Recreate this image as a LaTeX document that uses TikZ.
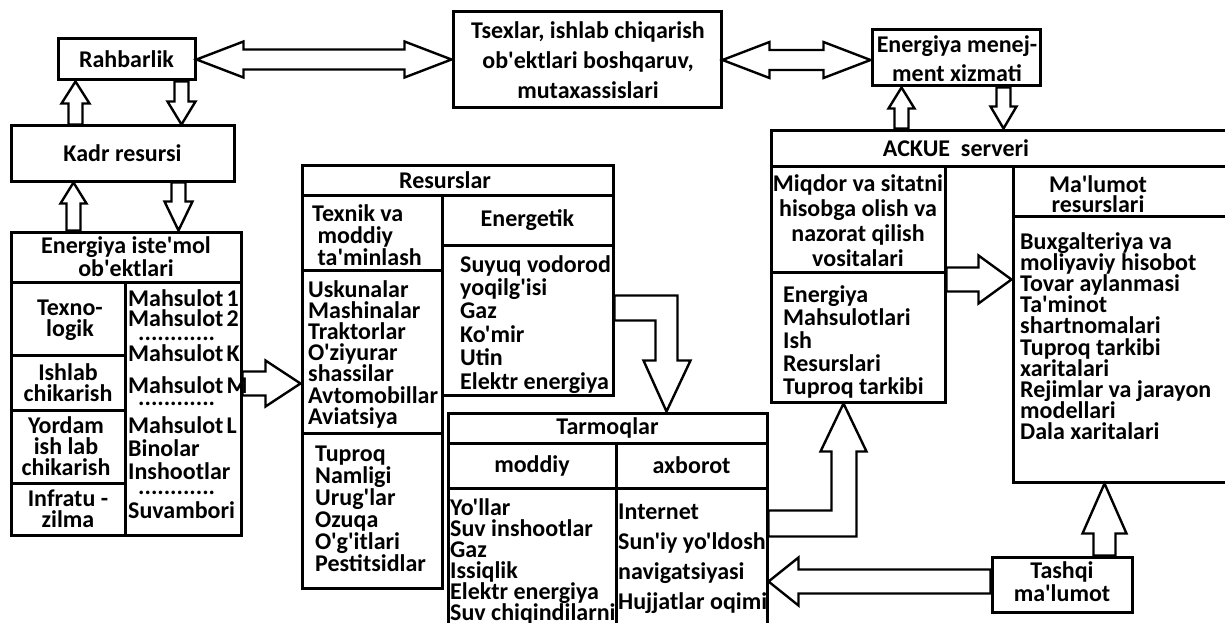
\documentclass[tikz,border=0pt]{standalone}
\usepackage{fontspec}
\setmainfont{Carlito}[Ligatures=TeXOff]
\usetikzlibrary{calc}

\newcommand\labfont{\bfseries\fontsize{24}{21}\selectfont\lineskiplimit=-50pt\relax}
\newcommand\lsp[1]{\fontsize{24}{#1}\selectfont}
\newcommand\ms{\hspace{3pt}}

% framed cell given by its corners (x1,y1) (x2,y2)
\newcommand\boxat[6]{\node[box,minimum width={#4-#2},minimum height={#5-#3}] (#1) at ({(#2+#4)/2},{(#3+#5)/2}) {#6};}
% vertical block arrow: base, tip, half shaft, half head, head length (signed, tip towards base)
\newcommand\vblock[5]{\draw[blk] (#2) -- ($(#2)+(#4,#5)$) -- ($(#2)+(#3,#5)$) -- ($(#1)+(#3,0)$) -- ($(#1)+(-#3,0)$) -- ($(#2)+(-#3,#5)$) -- ($(#2)+(-#4,#5)$) -- cycle;}
% horizontal block arrow
\newcommand\hblock[5]{\draw[blk] (#2) -- ($(#2)+(#5,-#4)$) -- ($(#2)+(#5,-#3)$) -- ($(#1)+(0,-#3)$) -- ($(#1)+(0,#3)$) -- ($(#2)+(#5,#3)$) -- ($(#2)+(#5,#4)$) -- cycle;}
% horizontal two-headed block arrow
\newcommand\dblock[5]{\draw[blk] (#1) -- ($(#1)+(#5,-#4)$) -- ($(#1)+(#5,-#3)$) -- ($(#2)+(-#5,-#3)$) -- ($(#2)+(-#5,-#4)$) -- (#2) -- ($(#2)+(-#5,#4)$) -- ($(#2)+(-#5,#3)$) -- ($(#1)+(#5,#3)$) -- ($(#1)+(#5,#4)$) -- cycle;}

\pgfdeclarelayer{bg}
\pgfdeclarelayer{paper}
\pgfsetlayers{paper,bg,main}

\tikzset{
  box/.style={draw,line width=3pt,inner sep=0pt,align=center,font=\labfont},
  lst/.style={inner sep=0pt,align=left,anchor=north west,font=\labfont},
  txt/.style={inner sep=0pt,align=center,font=\labfont},
  blk/.style={draw,line width=2.4pt,fill=white,line join=miter},
}

\begin{document}
\begin{tikzpicture}[x=1pt,y=-1pt]
\begin{pgfonlayer}{paper}
\fill[white] (0,0) rectangle (1225,623);
\end{pgfonlayer}
\useasboundingbox (0,0) rectangle (1225,623);

% top row
\boxat{rah}{58}{39}{195}{80}{Rahbarlik}
\boxat{tsex}{453}{12}{721}{108}{}
\node[txt,font=\labfont\lsp{30}] (tsext) at (588,60) {Tsexlar, ishlab chiqarish\\ ob'ektlari boshqaruv,\\mutaxassislari};
\boxat{men}{872}{30}{1040}{86}{}
\node[txt,font=\labfont\lsp{29}] (ment) at (957,59) {Energiya menej-\\ment xizmati};

% left block
\boxat{kadr}{11}{126}{234}{181}{Kadr resursi}
\boxat{ene}{11}{232}{241}{535}{}
\boxat{eneh}{11}{232}{241}{282}{}
\node[txt,font=\labfont\lsp{23}] (eneht) at (126,257) {Energiya iste'mol\\ob'ektlari};
\boxat{tex}{11}{282}{125}{355}{}
\node[txt] (text) at (70,320) {Texno-\\logik};
\boxat{ish}{11}{355}{125}{410}{}
\node[txt] (isht) at (68,383) {Ishlab\\chikarish};
\boxat{yor}{11}{410}{125}{483}{}
\node[txt] (yort) at (66,446) {Yordam\\ish lab\\chikarish};
\boxat{inf}{11}{483}{125}{535}{}
\node[txt] (inft) at (68,509) {Infratu -\\zilma};
\boxat{mah}{125}{282}{241}{535}{}
\node[lst] (mahl) at (128,289) {Mahsulot\ms1\\[-1pt]Mahsulot\ms2\\[-7pt]\hspace*{10pt}............\\Mahsulot\ms K\\[11pt]Mahsulot\ms M\\[-9pt]\hspace*{10pt}............\\[7pt]Mahsulot\ms L\\[2pt]Binolar\\[2pt]Inshootlar\\[-6pt]\hspace*{10pt}............\\[3pt]Suvambori};

% resources
\boxat{resh}{302}{165}{613}{195}{}
\node[txt] (rest) at (445,180) {Resurslar};
\boxat{texh}{302}{195}{442}{270}{}
\node[lst,font=\labfont\lsp{22}] (texl) at (312,204) {Texnik va\\\ moddiy\\\ ta'minlash};
\boxat{usk}{302}{270}{442}{433}{}
\node[lst,font=\labfont\lsp{21.2}] (uskl) at (308,280) {Uskunalar\\Mashinalar\\Traktorlar\\O'ziyurar\\shassilar\\Avtomobillar\\Aviatsiya};
\boxat{tup}{302}{433}{442}{588}{}
\node[lst,font=\labfont\lsp{22}] (tupl) at (315,446) {Tuproq\\Namligi\\Urug'lar\\Ozuqa\\O'g'itlari\\Pestitsidlar};
\boxat{enh}{442}{195}{613}{245}{Energetik}
\boxat{enl}{442}{245}{613}{395}{}
\node[lst,font=\labfont\lsp{23.4}] (enll) at (460,255) {Suyuq vodorod\\yoqilg'isi\\Gaz\\Ko'mir\\Utin\\Elektr energiya};

% networks
\boxat{tar}{448}{413}{767}{443}{Tarmoqlar}
\boxat{modh}{448}{443}{616}{488}{moddiy}
\boxat{axh}{616}{443}{767}{488}{axborot}
\boxat{modl}{448}{488}{616}{640}{}
\node[lst,font=\labfont\lsp{21}] (modll) at (450,498) {Yo'llar\\Suv inshootlar\\Gaz\\Issiqlik\\Elektr energiya\\Suv chiqindilarni};
\boxat{axl}{616}{488}{767}{640}{}
\node[lst,font=\labfont\lsp{30}] (axll) at (618,504) {Internet\\Sun'iy yo'ldosh\\navigatsiyasi\\Hujjatlar oqimi};

% server block
\boxat{ack}{771}{130}{1240}{166}{}
\node[txt] (ackt) at (956,148) {ACKUE\ \ serveri};
\boxat{miq}{771}{166}{945}{272}{}
\node[txt,font=\labfont\lsp{25}] (miqt) at (858,221) {Miqdor va sitatni\\hisobga olish va\\nazorat qilish\\vositalari};
\boxat{miql}{771}{272}{945}{402}{}
\node[lst,font=\labfont\lsp{23}] (miqll) at (783,285) {Energiya\\Mahsulotlari\\Ish\\Resurslari\\Tuproq tarkibi};
\boxat{mal}{1013}{166}{1240}{482}{}
\boxat{malh}{1013}{166}{1240}{216}{}
\node[txt,font=\labfont\lsp{20}] (malt) at (1098,194) {Ma'lumot\\resurslari};
\node[lst,font=\labfont\lsp{21.2}] (mall) at (1020,232) {Buxgalteriya va\\moliyaviy hisobot\\Tovar aylanmasi\\Ta'minot\\shartnomalari\\Tuproq tarkibi\\xaritalari\\Rejimlar va jarayon\\modellari\\Dala xaritalari};
\boxat{tash}{992}{557}{1132}{612}{}
\node[txt,font=\labfont\lsp{23}] (tasht) at (1062,582) {Tashqi\\ma'lumot};

% block arrows
\begin{pgfonlayer}{bg}
\coordinate (d1b) at (tsex.west |- rah.east);
\dblock{rah.east}{d1b}{10}{18}{47}
\coordinate (d2b) at (men.west |- tsex.east);
\dblock{tsex.east}{d2b}{10}{18}{47}

\coordinate (c1t) at ([xshift=19pt]rah.south west);
\coordinate (c1b) at (c1t |- kadr.north);
\vblock{c1b}{c1t}{7}{14}{22}
\coordinate (c2b) at ([xshift=-15pt]rah.south east);
\coordinate (c2t) at (c2b |- kadr.north);
\vblock{c2b}{c2t}{7}{14}{-23}
\coordinate (c3t) at ([xshift=64pt]kadr.south west);
\coordinate (c3b) at (c3t |- ene.north);
\vblock{c3b}{c3t}{7}{13}{21}
\coordinate (c4b) at ([xshift=169pt]kadr.south west);
\coordinate (c4t) at (c4b |- ene.north);
\vblock{c4b}{c4t}{7}{14}{-29}
\coordinate (c5t) at ([xshift=31pt]men.south west);
\coordinate (c5b) at (c5t |- ack.north);
\vblock{c5b}{c5t}{7}{13}{21}
\coordinate (c6b) at ([xshift=133pt]men.south west);
\coordinate (c6t) at (c6b |- ack.north);
\vblock{c6b}{c6t}{7}{13}{-22}

\coordinate (h1b) at (ene.east);
\coordinate (h1t) at (usk.west |- ene.east);
\hblock{h1b}{h1t}{12}{23}{-35}
\coordinate (h2b) at ([yshift=-9pt]miql.north east);
\coordinate (h2t) at (mal.west |- h2b);
\hblock{h2b}{h2t}{12}{24}{-33}
\coordinate (h3b) at ([yshift=3pt]tash.west);
\coordinate (h3t) at (axl.east |- h3b);
\hblock{h3b}{h3t}{12}{24}{30}
\coordinate (v7t) at ([xshift=93pt]mal.south west);
\coordinate (v7b) at (v7t |- tash.north);
\vblock{v7b}{v7t}{11}{22}{50}

% bent arrow: energy carriers into the networks
\coordinate (b1s) at ([yshift=-52pt]enl.north east);
\coordinate (b1t) at ([xshift=220pt]tar.north west);
\coordinate (b1k) at (b1s -| b1t);
\draw[blk] (b1s) -- ($(b1k)+(11,0)$) -- ($(b1t)+(11,-51)$) -- ($(b1t)+(24,-51)$) -- (b1t) -- ($(b1t)+(-23,-51)$) -- ($(b1t)+(-11,-51)$) -- ($(b1k)+(-11,25)$) -- ($(b1s)+(0,25)$) -- cycle;

% bent arrow: information networks up to the metering block
\coordinate (b2s) at ([yshift=-24pt]axl.north east);
\coordinate (b2t) at ([xshift=74pt]miql.south west);
\coordinate (b2k) at (b2s -| b2t);
\draw[blk] (b2s) -- ($(b2k)+(-12,0)$) -- ($(b2t)+(-12,48)$) -- ($(b2t)+(-23,48)$) -- (b2t) -- ($(b2t)+(23,48)$) -- ($(b2t)+(13,48)$) -- ($(b2k)+(13,26)$) -- ($(b2s)+(0,26)$) -- cycle;
\end{pgfonlayer}
\end{tikzpicture}
\end{document}
